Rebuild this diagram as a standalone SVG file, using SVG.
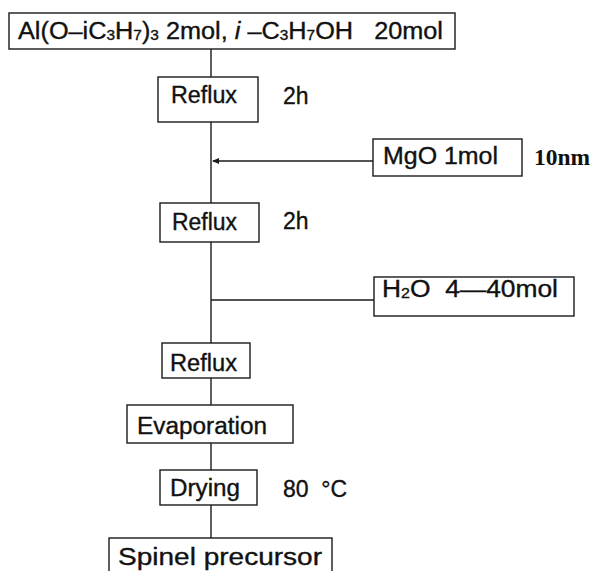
<svg xmlns="http://www.w3.org/2000/svg" width="592" height="571" viewBox="0 0 592 571">
<style>
.box{fill:#fff;stroke:#1a1a1a;stroke-width:1.4}
.ln{fill:none;stroke:#1a1a1a;stroke-width:1.4}
.t{font-family:"Liberation Sans",Arial,sans-serif;font-size:23px;fill:#111;stroke:#111;stroke-width:0.35}
.s{font-size:14px}
.b{font-family:"Liberation Serif","Times New Roman",serif;font-size:23px;font-weight:bold;fill:#111}
</style>
<rect width="592" height="571" fill="#fff"/>
<g id="connectors">
<line class="ln" x1="211" y1="49" x2="211" y2="77"/>
<line class="ln" x1="211" y1="122" x2="211" y2="203"/>
<line class="ln" x1="213" y1="161" x2="373" y2="161"/>
<polygon points="212,161 219,158 219,164" fill="#1a1a1a"/>
<line class="ln" x1="211" y1="242" x2="211" y2="343"/>
<line class="ln" x1="211" y1="300" x2="374" y2="300"/>
<line class="ln" x1="211" y1="378" x2="211" y2="405"/>
<line class="ln" x1="211" y1="443" x2="211" y2="470"/>
<line class="ln" x1="211" y1="505" x2="211" y2="538"/>
</g>
<g id="start">
<rect class="box" x="9" y="13" width="446" height="36"/>
<text class="t" x="18" y="39" textLength="425" lengthAdjust="spacingAndGlyphs">Al(O–iC<tspan class="s" dy="1">3</tspan><tspan dy="-1">H</tspan><tspan class="s" dy="1">7</tspan><tspan dy="-1">)</tspan><tspan class="s" dy="1">3</tspan><tspan dy="-1"> 2mol, </tspan><tspan font-style="italic">i</tspan> –C<tspan class="s" dy="1">3</tspan><tspan dy="-1">H</tspan><tspan class="s" dy="1">7</tspan><tspan dy="-1">OH&#160;&#160; 20mol</tspan></text>
</g>
<g id="reflux1">
<rect class="box" x="158" y="77" width="100" height="45"/>
<text class="t" x="171" y="103" textLength="66" lengthAdjust="spacingAndGlyphs">Reflux</text>
<text class="t" x="283" y="104">2h</text>
</g>
<g id="mgo">
<rect class="box" x="373" y="139" width="149" height="37"/>
<text class="t" x="383" y="164" textLength="115" lengthAdjust="spacingAndGlyphs">MgO 1mol</text>
<text class="b" x="534" y="165" textLength="56" lengthAdjust="spacingAndGlyphs">10nm</text>
</g>
<g id="reflux2">
<rect class="box" x="160" y="203" width="99" height="39"/>
<text class="t" x="172" y="230" textLength="65" lengthAdjust="spacingAndGlyphs">Reflux</text>
<text class="t" x="283" y="229">2h</text>
</g>
<g id="h2o">
<rect class="box" x="374" y="277" width="200" height="39"/>
<text class="t" x="382" y="297" textLength="176" lengthAdjust="spacingAndGlyphs">H<tspan class="s" dy="1">2</tspan><tspan dy="-1">O&#160; 4—40mol</tspan></text>
</g>
<g id="reflux3">
<rect class="box" x="162" y="343" width="88" height="35"/>
<text class="t" x="170" y="371" textLength="67" lengthAdjust="spacingAndGlyphs">Reflux</text>
</g>
<g id="evaporation">
<rect class="box" x="127" y="405" width="166" height="38"/>
<text class="t" x="137" y="434" textLength="130" lengthAdjust="spacingAndGlyphs">Evaporation</text>
</g>
<g id="drying">
<rect class="box" x="160" y="470" width="97" height="35"/>
<text class="t" x="170" y="496" textLength="70" lengthAdjust="spacingAndGlyphs">Drying</text>
<text class="t" x="283" y="497" textLength="64" lengthAdjust="spacing">80&#160; °C</text>
</g>
<g id="spinel">
<rect class="box" x="109" y="538" width="223" height="40"/>
<text class="t" x="118" y="565" textLength="204" lengthAdjust="spacingAndGlyphs">Spinel precursor</text>
</g>
</svg>
